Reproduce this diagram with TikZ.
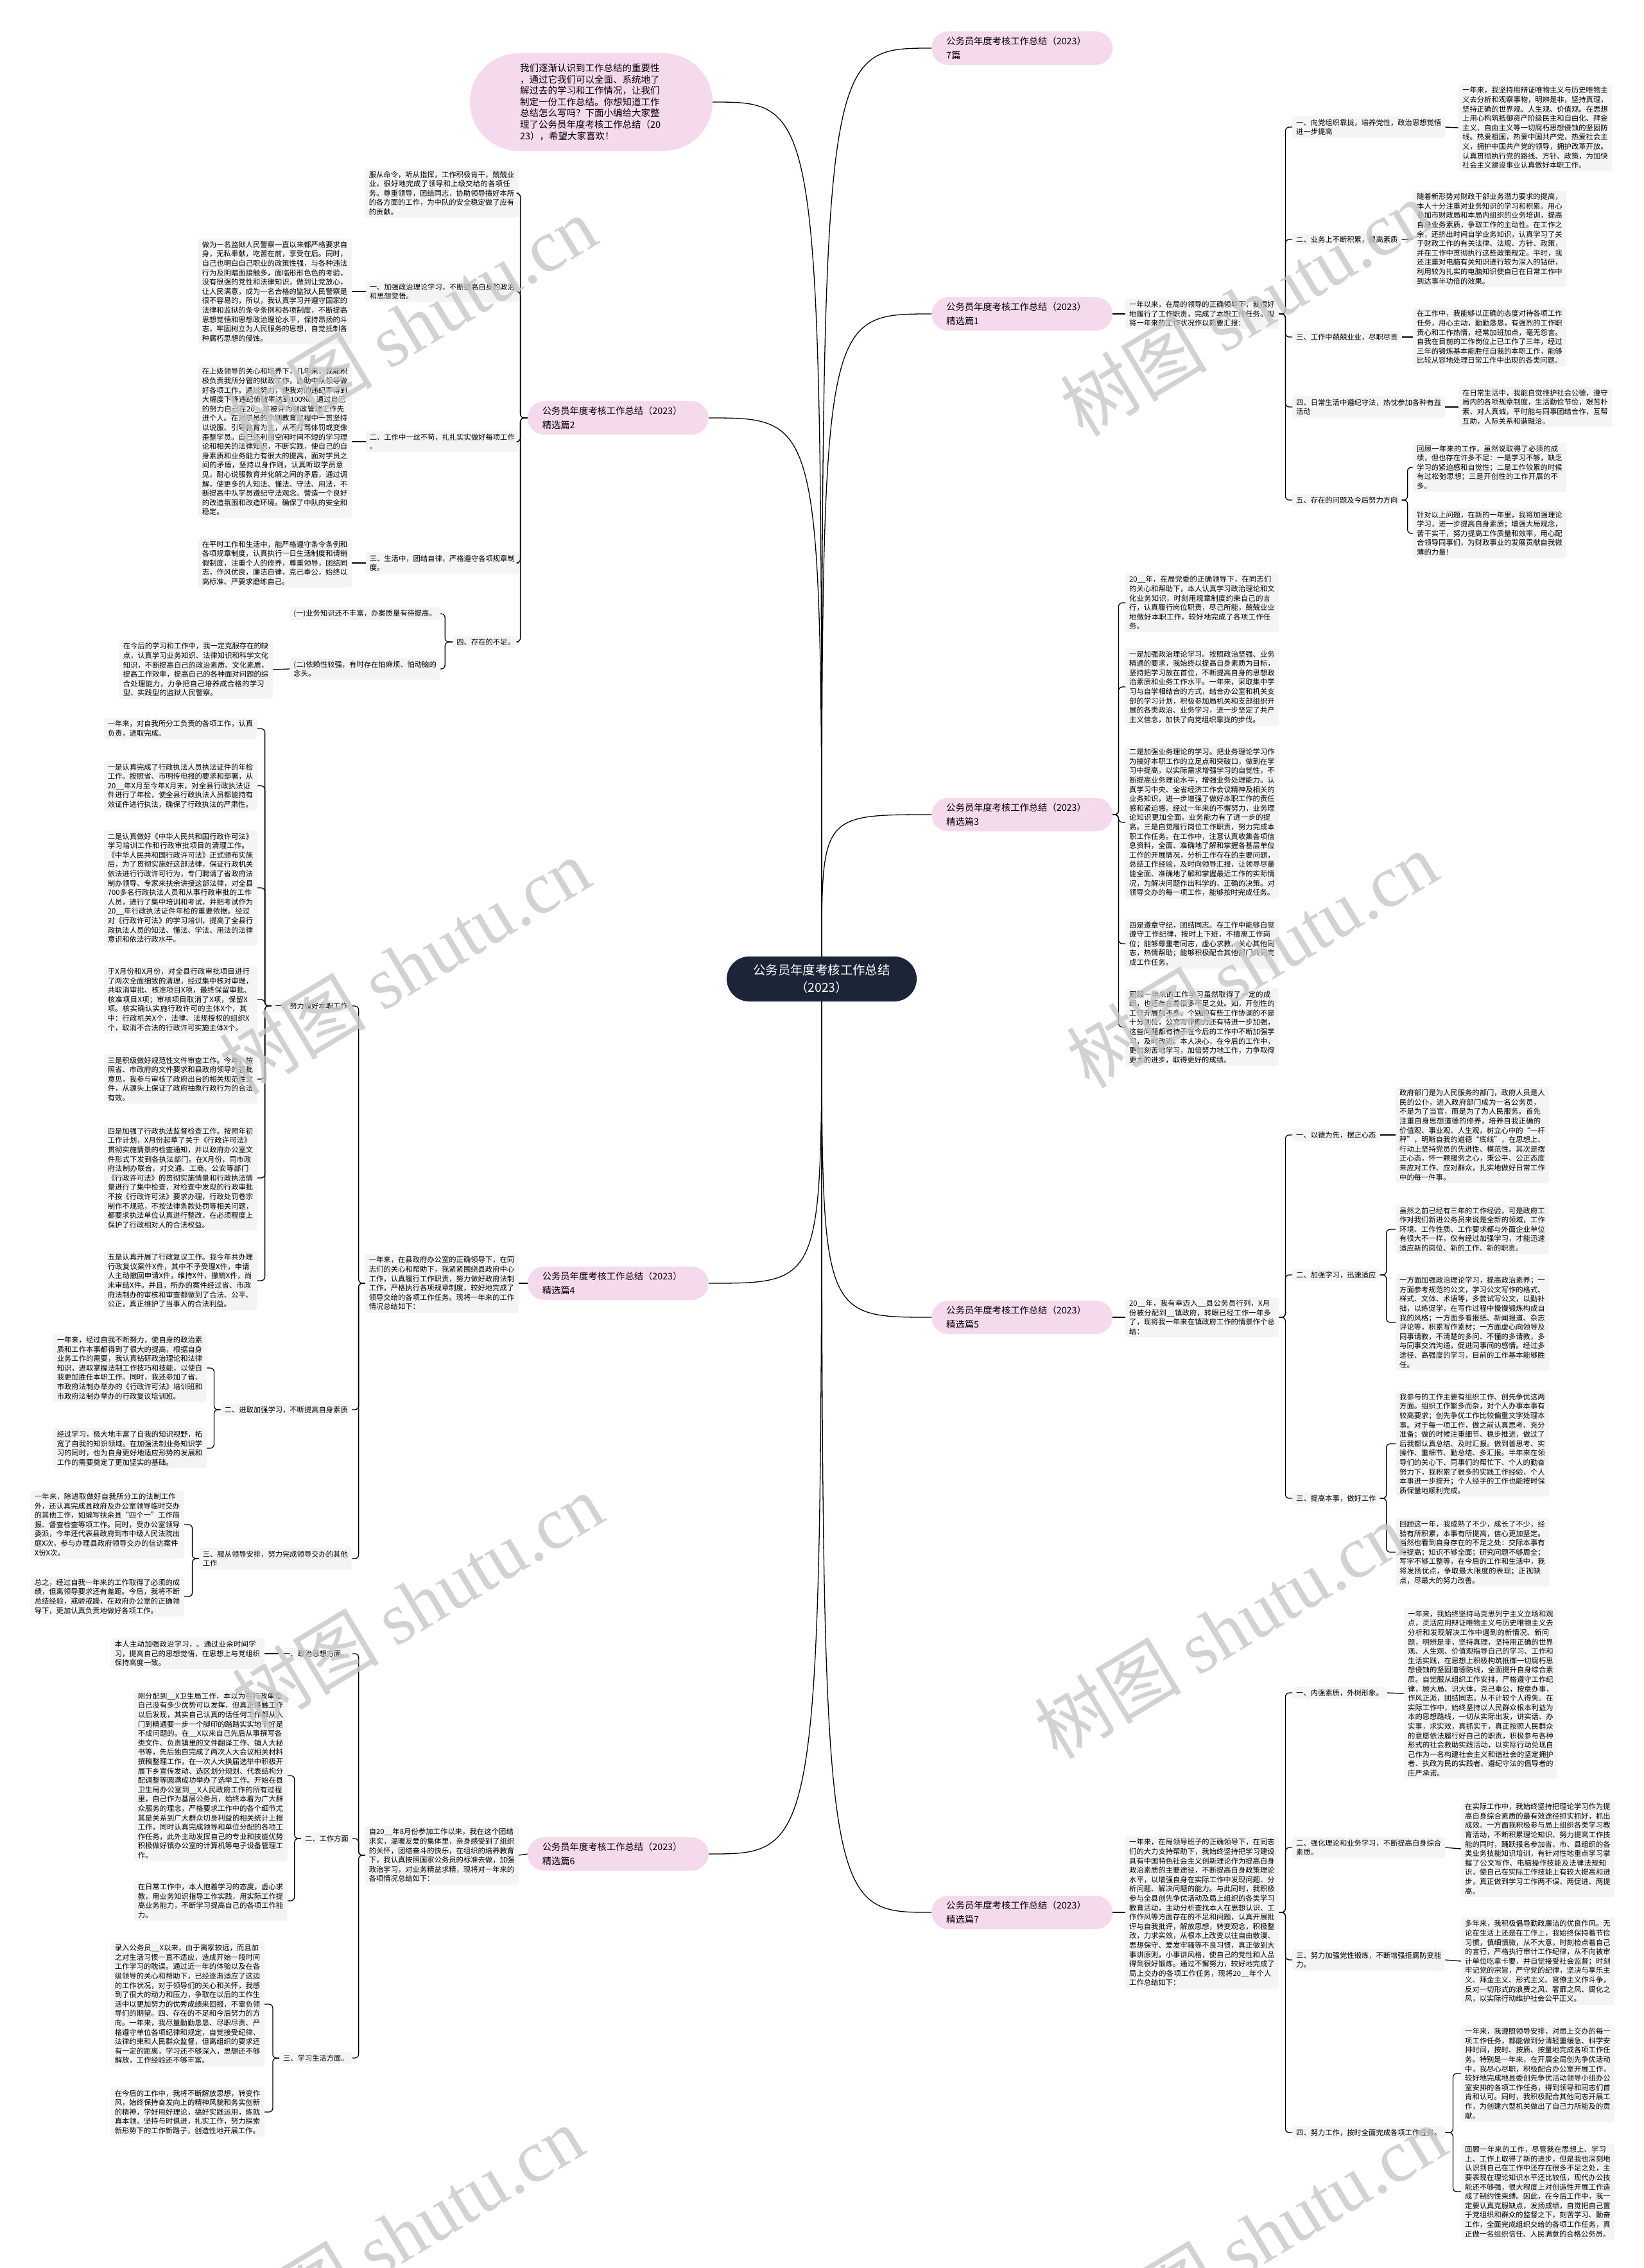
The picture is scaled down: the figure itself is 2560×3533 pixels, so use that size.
\documentclass[tikz,border=0pt]{standalone}
\usepackage{fontspec}
\setmainfont{Noto Sans CJK SC}
\newfontfamily\wmfont{Liberation Serif}
\XeTeXlinebreaklocale "zh"
\XeTeXlinebreakskip=0pt plus 1pt
\usepackage{tikz}
\usetikzlibrary{positioning}
\definecolor{rootblue}{HTML}{1B2537}
\definecolor{topicpink}{HTML}{F5DAEE}
\definecolor{notegray}{HTML}{F4F4F4}

\begin{document}
\begin{tikzpicture}[x=1pt,y=-1pt,
    rootbox/.style={fill=rootblue,text=white,rounded corners=35pt,minimum width=296pt,minimum height=70pt,align=center,font=\fontsize{19.4}{26.7}\selectfont},
    introbox/.style={fill=topicpink,rounded corners=76pt,text width=222pt,inner xsep=78pt,minimum height=152pt,align=left,font=\fontsize{14.5}{17.6}\selectfont},
    topicbox/.style={fill=topicpink,rounded corners=26pt,text width=236pt,inner xsep=23pt,minimum height=52pt,align=left,font=\fontsize{14.3}{21.7}\selectfont},
    headbox/.style={fill=notegray,rounded corners=4pt,inner xsep=6pt,inner ysep=4pt,align=left,font=\fontsize{11.3}{14.6}\selectfont},
    notebox/.style={headbox,text width=227pt},
    rootcurve/.style={line width=1.3pt},
    treelink/.style={line width=1.3pt,rounded corners=6pt},
    wmark/.style={text=black!22,opacity=0.8,rotate=31,font=\fontsize{115}{115}\selectfont}]
\useasboundingbox (0,0) rectangle (2560,3533);
\fill[white] (0,0) rectangle (2560,3533);

% centre and intro
\node[rootbox] (root) at (1280,1525) {公务员年度考核工作总结\\（2023）};
\node[introbox] (intro) at (921,159) {我们逐渐认识到工作总结的重要性\\，通过它我们可以全面、系统地了\\解过去的学习和工作情况，让我们\\制定一份工作总结。你想知道工作\\总结怎么写吗？下面小编给大家整\\理了公务员年度考核工作总结（20\\23），希望大家喜欢！};

% branches
\node[topicbox,anchor=west] (b0) at (1451,75) {公务员年度考核工作总结（2023）\\7篇};
\node[topicbox,anchor=west] (b1) at (1451,489) {公务员年度考核工作总结（2023）\\精选篇1};
\node[topicbox,anchor=east] (b2) at (1104,651) {公务员年度考核工作总结（2023）\\精选篇2};
\node[topicbox,anchor=west] (b3) at (1451,1269) {公务员年度考核工作总结（2023）\\精选篇3};
\node[topicbox,anchor=east] (b4) at (1104,1999) {公务员年度考核工作总结（2023）\\精选篇4};
\node[topicbox,anchor=west] (b5) at (1451,2052) {公务员年度考核工作总结（2023）\\精选篇5};
\node[topicbox,anchor=east] (b6) at (1104,2888) {公务员年度考核工作总结（2023）\\精选篇6};
\node[topicbox,anchor=west] (b7) at (1451,2979) {公务员年度考核工作总结（2023）\\精选篇7};

\draw[rootcurve] (root.north) .. controls (root.north |- intro.east) .. (intro.east);
\draw[rootcurve] (root.north) .. controls (root.north |- b0.west) .. (b0.west);
\draw[rootcurve] (root.north) .. controls (root.north |- b1.west) .. (b1.west);
\draw[rootcurve] (root.north) .. controls (root.north |- b2.east) .. (b2.east);
\draw[rootcurve] (root.north) .. controls (root.north |- b3.west) .. (b3.west);
\draw[rootcurve] (root.south) .. controls (root.south |- b4.east) .. (b4.east);
\draw[rootcurve] (root.south) .. controls (root.south |- b5.west) .. (b5.west);
\draw[rootcurve] (root.south) .. controls (root.south |- b6.east) .. (b6.east);
\draw[rootcurve] (root.south) .. controls (root.south |- b7.west) .. (b7.west);

% 篇1
\node[notebox,anchor=west] (p1) at (1753,489) {一年以来，在局的领导的正确领导下，我很好地履行了工作职责，完成了本职工作任务。现将一年来的工作状况作以简要汇报：};
\node[headbox,anchor=west] (h11) at (2013,198) {一、向党组织靠拢，培养党性，政治思想觉悟\\进一步提高};
\node[headbox,anchor=west] (h12) at (2013,373) {二、业务上不断积累，提高素质};
\node[headbox,anchor=west] (h13) at (2013,525) {三、工作中兢兢业业，尽职尽责};
\node[headbox,anchor=west] (h14) at (2013,634) {四、日常生活中遵纪守法，热忱参加各种有益\\活动};
\node[headbox,anchor=west] (h15) at (2013,779) {五、存在的问题及今后努力方向};
\node[notebox,anchor=west] (t11) at (2272,199) {一年来，我坚持用辩证唯物主义与历史唯物主义去分析和观察事物，明辨是非，坚持真理，坚持正确的世界观、人生观、价值观。在思想上用心构筑抵御资产阶级民主和自由化、拜金主义、自由主义等一切腐朽思想侵蚀的坚固防线。热爱祖国，热爱中国共产党，热爱社会主义，拥护中国共产党的领导，拥护改革开放。认真贯彻执行党的路线、方针、政策，为加快社会主义建设事业认真做好本职工作。};
\node[notebox,anchor=west] (t12) at (2201,372) {随着新形势对财政干部业务潜力要求的提高，本人十分注重对业务知识的学习和积累。用心参加市财政局和本局内组织的业务培训，提高自身业务素质，争取工作的主动性。在工作之余，还挤出时间自学业务知识，认真学习了关于财政工作的有关法律、法规、方针、政策，并在工作中贯彻执行这些政策规定。平时，我还注重对电脑有关知识进行较为深入的钻研，利用较为扎实的电脑知识使自已在日常工作中到达事半功倍的效果。};
\node[notebox,anchor=west] (t13) at (2201,525) {在工作中，我能够以正确的态度对待各项工作任务，用心主动，勤勤恳恳，有强烈的工作职责心和工作热情，经常加班加点，毫无怨言。自我在目前的工作岗位上已工作了三年，经过三年的锻炼基本能胜任自我的本职工作，能够比较从容地处理日常工作中出现的各类问题。};
\node[notebox,anchor=west] (t14) at (2272,634) {在日常生活中，我能自觉维护社会公德，遵守局内的各项规章制度，生活勤俭节俭，艰苦朴素、对人真诚，平时能与同事团结合作，互帮互助，人际关系和谐融洽。};
\node[notebox,anchor=west] (t15a) at (2201,728) {回顾一年来的工作，虽然说取得了必须的成绩，但也存在许多不足：一是学习不够，缺乏学习的紧迫感和自觉性；二是工作较累的时候有过松弛思想；三是开创性的工作开展的不多。};
\node[notebox,anchor=west] (t15b) at (2201,831) {针对以上问题，在新的一年里，我将加强理论学习，进一步提高自身素质；增强大局观念，苦干实干，努力提高工作质量和效率，用心配合领导同事们，为财政事业的发展贡献自我微薄的力量！};
\draw[treelink] (b1.east) -- (p1.west);
\draw[treelink] (p1.east) -- ++(10,0) |- (h11.west);
\draw[treelink] (p1.east) -- ++(10,0) |- (h12.west);
\draw[treelink] (p1.east) -- ++(10,0) |- (h13.west);
\draw[treelink] (p1.east) -- ++(10,0) |- (h14.west);
\draw[treelink] (p1.east) -- ++(10,0) |- (h15.west);
\draw[treelink] (h11.east) -- (t11.west);
\draw[treelink] (h12.east) -- (t12.west);
\draw[treelink] (h13.east) -- (t13.west);
\draw[treelink] (h14.east) -- (t14.west);
\draw[treelink] (h15.east) -- ++(9,0) |- (t15a.west);
\draw[treelink] (h15.east) -- ++(9,0) |- (t15b.west);

% 篇2
\node[notebox,anchor=east] (t21) at (808,301) {服从命令，听从指挥，工作积极肯干，兢兢业业，很好地完成了领导和上级交给的各项任务。尊重领导，团结同志，协助领导搞好本所的各方面的工作，为中队的安全稳定做了应有的贡献。};
\node[headbox,anchor=east] (h21) at (808,454) {一、加强政治理论学习，不断提高自身的政治\\和思想觉悟。};
\node[headbox,anchor=east] (h22) at (808,688) {二、工作中一丝不苟，扎扎实实做好每项工作\\。};
\node[headbox,anchor=east] (h23) at (808,877) {三、生活中，团结自律，严格遵守各项规章制\\度。};
\node[headbox,anchor=east] (h24) at (808,1000) {四、存在的不足。};
\node[notebox,anchor=east] (t22) at (548,454) {做为一名监狱人民警察一直以来都严格要求自身，无私奉献，吃苦在前，享受在后。同时，自己也明白自己职业的政策性强，与各种违法行为及阴暗面接触多，面临形形色色的考验，没有很强的党性和法律知识，做到让党放心，让人民满意，成为一名合格的监狱人民警察是很不容易的，所以，我认真学习并遵守国家的法律和监狱的条令条例和各项制度，不断提高思想觉悟和思想政治理论水平，保持昂扬的斗志，牢固树立为人民服务的思想，自觉抵制各种腐朽思想的侵蚀。};
\node[notebox,anchor=east] (t23) at (548,688) {在上级领导的关心和培养下，几年来，我能积极负责我所分管的狱政工作，协助中队领导做好各项工作。通过努力，使我对的违纪率得到大幅度下降违纪侦破率达到100\%。通过自己的努力自己在20\_\_年被评为狱政管理工作先进个人。在对学员的个别教育过程中一贯坚持以说服、引导教育为主，从不打骂体罚或变像歪整学员。自己还利用空闲时间不短的学习理论和相关的法律知识，不断实践，使自己的自身素质和业务能力有很大的提高，面对学员之间的矛盾，坚持以身作则，认真听取学员意见，耐心说服教育并化解之间的矛盾，通过调解，使更多的人知法、懂法、守法、用法，不断提高中队学员遵纪守法观念。营造一个良好的改造氛围和改造环境。确保了中队的安全和稳定。};
\node[notebox,anchor=east] (t24) at (548,877) {在平时工作和生活中，能严格遵守条令条例和各项规章制度，认真执行一日生活制度和请销假制度，注重个人的修养，尊重领导，团结同志，作风优良，廉洁自律，克己奉公，始终以高标准、严要求磨练自己。};
\node[headbox,anchor=east] (h241) at (686,956) {(一)业务知识还不丰富，办案质量有待提高。};
\node[headbox,anchor=east] (h242) at (686,1042) {(二)依赖性较强，有时存在怕麻烦、怕动脑的\\念头。};
\node[notebox,anchor=east] (t25) at (425,1043) {在今后的学习和工作中，我一定克服存在的缺点，认真学习业务知识、法律知识和科学文化知识，不断提高自己的政治素质、文化素质，提高工作效率，提高自己的各种面对问题的综合处理能力，力争把自己培养成合格的学习型、实践型的监狱人民警察。};
\draw[treelink] (b2.west) -- ++(-11,0) |- (t21.east);
\draw[treelink] (b2.west) -- ++(-11,0) |- (h21.east);
\draw[treelink] (b2.west) -- ++(-11,0) |- (h22.east);
\draw[treelink] (b2.west) -- ++(-11,0) |- (h23.east);
\draw[treelink] (b2.west) -- ++(-11,0) |- (h24.east);
\draw[treelink] (h21.west) -- (t22.east);
\draw[treelink] (h22.west) -- (t23.east);
\draw[treelink] (h23.west) -- (t24.east);
\draw[treelink] (h24.west) -- ++(-12,0) |- (h241.east);
\draw[treelink] (h24.west) -- ++(-12,0) |- (h242.east);
\draw[treelink] (h242.west) -- (t25.east);

% 篇3
\node[notebox,anchor=west] (t31) at (1753,939) {20\_\_年，在局党委的正确领导下，在同志们的关心和帮助下，本人认真学习政治理论和文化业务知识，时刻用规章制度约束自己的言行，认真履行岗位职责，尽己所能，兢兢业业地做好本职工作，较好地完成了各项工作任务。};
\node[notebox,anchor=west] (t32) at (1753,1070) {一是加强政治理论学习。按照政治坚强、业务精通的要求，我始终以提高自身素质为目标，坚持把学习放在首位，不断提高自身的思想政治素质和业务工作水平。一年来，采取集中学习与自学相结合的方式，结合办公室和机关支部的学习计划，积极参加局机关和支部组织开展的各类政治、业务学习，进一步坚定了共产主义信念，加快了向党组织靠拢的步伐。};
\node[notebox,anchor=west] (t33) at (1753,1281) {二是加强业务理论的学习。把业务理论学习作为搞好本职工作的立足点和突破口，做到在学习中提高，以实际需求增强学习的自觉性，不断提高业务理论水平，增强业务处理能力。认真学习中央、全省经济工作会议精神及相关的业务知识，进一步增强了做好本职工作的责任感和紧迫感。经过一年来的不懈努力，业务理论知识更加全面，业务能力有了进一步的提高。三是自觉履行岗位工作职责，努力完成本职工作任务。在工作中，注意认真收集各项信息资料，全面、准确地了解和掌握各基层单位工作的开展情况，分析工作存在的主要问题，总结工作经验，及时向领导汇报，让领导尽量能全面、准确地了解和掌握最近工作的实际情况，为解决问题作出科学的、正确的决策。对领导交办的每一项工作，能够按时完成任务。};
\node[notebox,anchor=west] (t34) at (1753,1470) {四是遵章守纪，团结同志。在工作中能够自觉遵守工作纪律，按时上下班，不擅离工作岗位；能够尊重老同志，虚心求教，关心其他同志，热情帮助；能够积极配合其他部门共同完成工作任务。};
\node[notebox,anchor=west] (t35) at (1753,1600) {回顾一年来的工作学习虽然取得了一定的成绩，也还存在着很多不足之处。如，开创性的工作开展的不多，个别的有些工作协调的不是十分到位，公文写作能力还有待进一步加强，这些问题都有待于在今后的工作中不断加强学习，及时改进。本人决心，在今后的工作中，更加刻苦地学习，加倍努力地工作，力争取得更大的进步，取得更好的成绩。};
\draw[treelink] (b3.east) -- ++(9,0) |- (t31.west);
\draw[treelink] (b3.east) -- ++(9,0) |- (t32.west);
\draw[treelink] (b3.east) -- ++(9,0) |- (t33.west);
\draw[treelink] (b3.east) -- ++(9,0) |- (t34.west);
\draw[treelink] (b3.east) -- ++(9,0) |- (t35.west);

% 篇4
\node[notebox,anchor=east] (p4) at (808,1999) {一年来，在县政府办公室的正确领导下，在同志们的关心和帮助下，我紧紧围绕县政府中心工作，认真履行工作职责，努力做好政府法制工作，严格执行各项规章制度，较好地完成了领导交给的各项工作任务。现将一年来的工作情况总结如下：};
\node[headbox,anchor=east] (h41) at (548,1567) {一、努力做好本职工作};
\node[headbox,anchor=east] (h42) at (548,2196) {二、进取加强学习，不断提高自身素质};
\node[headbox,anchor=east] (h43) at (548,2428) {三、服从领导安排，努力完成领导交办的其他\\工作};
\node[notebox,anchor=east] (t41a) at (401,1135) {一年来，对自我所分工负责的各项工作，认真负责，进取完成。};
\node[notebox,anchor=east] (t41b) at (401,1224) {一是认真完成了行政执法人员执法证件的年检工作。按照省、市明传电报的要求和部署，从20\_\_年X月至今年X月末，对全县行政执法证件进行了年检，使全县行政执法人员都能持有效证件进行执法，确保了行政执法的严肃性。};
\node[notebox,anchor=east] (t41c) at (401,1383) {二是认真做好《中华人民共和国行政许可法》学习培训工作和行政审批项目的清理工作。《中华人民共和国行政许可法》正式颁布实施后，为了贯彻实施好这部法律，保证行政机关依法进行行政许可行为，专门聘请了省政府法制办领导、专家来扶余讲授这部法律，对全县700多名行政执法人员和从事行政审批的工作人员，进行了集中培训和考试，并把考试作为20\_\_年行政执法证件年检的重要依据。经过对《行政许可法》的学习培训，提高了全县行政执法人员的知法、懂法、学法、用法的法律意识和依法行政水平。};
\node[notebox,anchor=east] (t41d) at (401,1557) {于X月份和X月份，对全县行政审批项目进行了两次全面细致的清理，经过集中核对审理，共取消审批、核准项目X项，最终保留审批、核准项目X项；审核项目取消了X项，保留X项。核实确认实施行政许可的主体X个，其中：行政机关X个，法律、法规授权的组织X个，取消不合法的行政许可实施主体X个。};
\node[notebox,anchor=east] (t41e) at (401,1681) {三是积级做好规范性文件审查工作。今年，按照省、市政府的文件要求和县政府领导的签批意见，我参与审核了政府出台的相关规范性文件，从源头上保证了政府抽象行政行为的合法有效。};
\node[notebox,anchor=east] (t41f) at (401,1835) {四是加强了行政执法监督检查工作。按照年初工作计划，X月份起草了关于《行政许可法》贯彻实施情景的检查通知，并以政府办公室文件形式下发到各执法部门。在X月份，同市政府法制办联合，对交通、工商、公安等部门《行政许可法》的贯彻实施情景和行政执法情景进行了集中检查，对检查中发现的行政审批不按《行政许可法》要求办理，行政处罚卷宗制作不规范，不按法律条款处罚等相关问题，都要求执法单位认真进行整改，在必须程度上保护了行政相对人的合法权益。};
\node[notebox,anchor=east] (t41g) at (401,1995) {五是认真开展了行政复议工作。我今年共办理行政复议案件X件，其中不予受理X件，申请人主动撤回申请X件，维持X件，撤销X件，尚未审结X件。并且，所办的案件经过省、市政府法制办的审核和审查都做到了合法、公平、公正，真正维护了当事人的合法利益。};
\node[notebox,anchor=east] (t42a) at (322,2131) {一年来，经过自我不断努力，使自身的政治素质和工作本事都得到了很大的提高，根据自身业务工作的需要，我认真钻研政治理论和法律知识，进取掌握法制工作技巧和技能，以使自我更加胜任本职工作。同时，我还参加了省、市政府法制办举办的《行政许可法》培训班和市政府法制办举办的行政复议培训班。};
\node[notebox,anchor=east] (t42b) at (322,2256) {经过学习，极大地丰富了自我的知识视野，拓宽了自我的知识领域。在加强法制业务知识学习的同时，也为自身更好地适应形势的发展和工作的需要奠定了更加坚实的基础。};
\node[notebox,anchor=east] (t43a) at (287,2375) {一年来，除进取做好自我所分工的法制工作外，还认真完成县政府及办公室领导临时交办的其他工作，如编写扶余县“四个一”工作简报、督查检查等项工作。同时，受办公室领导委派，今年还代表县政府到市中级人民法院出庭X次，参与办理县政府领导交办的信访案件X份X次。};
\node[notebox,anchor=east] (t43b) at (287,2487) {总之，经过自我一年来的工作取得了必须的成绩，但离领导要求还有差距。今后，我将不断总结经验，戒骄戒躁，在政府办公室的正确领导下，更加认真负责地做好各项工作。};
\draw[treelink] (b4.west) -- (p4.east);
\draw[treelink] (p4.west) -- ++(-10,0) |- (h41.east);
\draw[treelink] (p4.west) -- ++(-10,0) |- (h42.east);
\draw[treelink] (p4.west) -- ++(-10,0) |- (h43.east);
\draw[treelink] (h41.west) -- ++(-10,0) |- (t41a.east);
\draw[treelink] (h41.west) -- ++(-10,0) |- (t41b.east);
\draw[treelink] (h41.west) -- ++(-10,0) |- (t41c.east);
\draw[treelink] (h41.west) -- ++(-10,0) |- (t41d.east);
\draw[treelink] (h41.west) -- ++(-10,0) |- (t41e.east);
\draw[treelink] (h41.west) -- ++(-10,0) |- (t41f.east);
\draw[treelink] (h41.west) -- ++(-10,0) |- (t41g.east);
\draw[treelink] (h42.west) -- ++(-10,0) |- (t42a.east);
\draw[treelink] (h42.west) -- ++(-10,0) |- (t42b.east);
\draw[treelink] (h43.west) -- ++(-10,0) |- (t43a.east);
\draw[treelink] (h43.west) -- ++(-10,0) |- (t43b.east);

% 篇5
\node[notebox,anchor=west] (p5) at (1753,2052) {20\_\_年，我有幸迈入\_\_县公务员行列，X月份被分配到\_\_镇政府，转眼已经工作一年多了，现将我一年来在镇政府工作的情景作个总结：};
\node[headbox,anchor=west] (h51) at (2013,1768) {一、以德为先，摆正心态};
\node[headbox,anchor=west] (h52) at (2013,1986) {二、加强学习，迅速适应};
\node[headbox,anchor=west] (h53) at (2013,2334) {三、提高本事，做好工作};
\node[notebox,anchor=west] (t51) at (2174,1768) {政府部门是为人民服务的部门，政府人员是人民的公仆，进入政府部门成为一名公务员，不是为了当官，而是为了为人民服务。首先注重自身思想道德的修养，培养自我正确的价值观、事业观、人生观，树立心中的“一杆秤”，明晰自我的道德“底线”，在思想上、行动上坚持党员的先进性、模范性。其次是摆正心态，怀一颗服务之心，秉公平、公正态度来应对工作、应对群众，扎实地做好日常工作中的每一件事。};
\node[notebox,anchor=west] (t52a) at (2174,1915) {虽然之前已经有三年的工作经验，可是政府工作对我们新进公务员来说是全新的领域，工作环境、工作性质、工作要求都与外面企业单位有很大不一样，仅有经过加强学习，才能迅速适应新的岗位、新的工作、新的职责。};
\node[notebox,anchor=west] (t52b) at (2174,2060) {一方面加强政治理论学习，提高政治素养；一方面参考规范的公文，学习公文写作的格式、样式、文体、术语等，多尝试写公文，以勤补拙，以练促学，在写作过程中慢慢锻炼构成自我的风格；一方面多看报纸、新闻报道、杂志评论等，积累写作素材；一方面虚心向领导及同事请教，不清楚的多问、不懂的多请教，多与同事交流沟通，促进同事间的感情。经过多途径、高强度的学习，目前的工作基本能够胜任。};
\node[notebox,anchor=west] (t53a) at (2174,2249) {我参与的工作主要有组织工作、创先争优这两方面。组织工作繁多而杂，对个人办事本事有较高要求；创先争优工作比较偏重文字处理本事。对于每一项工作，做之前认真思考、充分准备；做的时候注重细节、稳步推进，做过了后我都认真总结、及时汇报。做到善思考、实操作、重细节、勤总结、多汇报。半年来在领导们的关心下、同事们的帮忙下、个人的勤奋努力下，我积累了很多的实践工作经验，个人本事进一步提升；个人经手的工作也能按时保质保量地顺利完成。};
\node[notebox,anchor=west] (t53b) at (2174,2418) {回顾这一年，我成熟了不少，成长了不少，经验有所积累，本事有所提高，信心更加坚定。当然也看到自身存在的不足之处：交际本事有待提高；知识不够全面；研究问题不够周全；写字不够工整等，在今后的工作和生活中，我将发扬优点，争取最大限度的表现；正视缺点，尽最大的努力改善。};
\draw[treelink] (b5.east) -- (p5.west);
\draw[treelink] (p5.east) -- ++(10,0) |- (h51.west);
\draw[treelink] (p5.east) -- ++(10,0) |- (h52.west);
\draw[treelink] (p5.east) -- ++(10,0) |- (h53.west);
\draw[treelink] (h51.east) -- (t51.west);
\draw[treelink] (h52.east) -- ++(10,0) |- (t52a.west);
\draw[treelink] (h52.east) -- ++(10,0) |- (t52b.west);
\draw[treelink] (h53.east) -- ++(10,0) |- (t53a.west);
\draw[treelink] (h53.east) -- ++(10,0) |- (t53b.west);

% 篇6
\node[notebox,anchor=east] (p6) at (808,2890) {自20\_\_年8月份参加工作以来，我在这个团结求实，温暖友爱的集体里，亲身感受到了组织的关怀，团结奋斗的快乐，在组织的培养教育下，我认真按照国家公务员的标准去做，加强政治学习，对业务精益求精，现将对一年来的各项情况总结如下：};
\node[headbox,anchor=east] (h61) at (549,2576) {一、政治思想方面。};
\node[headbox,anchor=east] (h62) at (549,2864) {二、工作方面};
\node[headbox,anchor=east] (h63) at (549,3206) {三、学习生活方面。};
\node[notebox,anchor=east] (t61) at (412,2576) {本人主动加强政治学习，。通过业余时间学习，提高自己的思想觉悟，在思想上与党组织保持高度一致。};
\node[notebox,anchor=east] (t62a) at (448,2766) {刚分配到\_\_X卫生局工作，本以为在行政单位自己没有多少优势可以发挥，但真正接触工作以后发现，其实自己认真的话任何工作都从入门到精通要一步一个脚印的踏踏实实地干好是不成问题的。在\_\_X以来自己先后从事撰写各类文件、负责镇里的文件翻译工作、镇人大秘书等，先后独自完成了两次人大会议相关材料撰稿整理工作，在一次人大换届选举中积极开展下乡宣传发动、选区划分规划、代表结构分配调整等圆满成功举办了选举工作。开始在县卫生局办公室到\_\_X人民政府工作的所有过程里，自己作为基层公务员，始终本着为广大群众服务的理念，严格要求工作中的各个细节尤其是关系到广大群众切身利益的相关统计上报工作，同时认真完成领导和单位分配的各项工作任务，此外主动发挥自己的专业和技能优势积极做好镇办公室的计算机等电子设备管理工作。};
\node[notebox,anchor=east] (t62b) at (448,2961) {在日常工作中，本人抱着学习的态度，虚心求教，用业务知识指导工作实践，用实际工作提高业务能力，不断学习提高自己的各项工作能力。};
\node[notebox,anchor=east] (t63a) at (412,3122) {录入公务员\_\_X以来，由于离家较远，而且加之对生活习惯一直不适应，造成开始一段时间工作学习的耽误。通过近一年的体验以及在各级领导的关心和帮助下，已经逐渐适应了这边的工作状况，对于领导们的关心和关怀，我感到了很大的动力和压力，争取在以后的工作生活中以更加努力的优秀成绩来回报，不辜负领导们的期望。四、存在的不足和今后努力的方向。一年来，我尽量勤勤恳恳、尽职尽责、严格遵守单位各项纪律和规定，自觉接受纪律、法律约束和人民群众监督，但离组织的要求还有一定的距离，学习还不够深入，思想还不够解放，工作经验还不够丰富。};
\node[notebox,anchor=east] (t63b) at (412,3290) {在今后的工作中，我将不断解放思想，转变作风，始终保持奋发向上的精神风貌和务实创新的精神，学好用好理论，搞好实践运用，炼就真本领。坚持与时俱进，扎实工作，努力探索新形势下的工作新路子，创造性地开展工作。};
\draw[treelink] (b6.west) -- (p6.east);
\draw[treelink] (p6.west) -- ++(-10,0) |- (h61.east);
\draw[treelink] (p6.west) -- ++(-10,0) |- (h62.east);
\draw[treelink] (p6.west) -- ++(-10,0) |- (h63.east);
\draw[treelink] (h61.west) -- (t61.east);
\draw[treelink] (h62.west) -- ++(-10,0) |- (t62a.east);
\draw[treelink] (h62.west) -- ++(-10,0) |- (t62b.east);
\draw[treelink] (h63.west) -- ++(-10,0) |- (t63a.east);
\draw[treelink] (h63.west) -- ++(-10,0) |- (t63b.east);

% 篇7
\node[notebox,anchor=west] (p7) at (1753,2979) {一年来，在局领导班子的正确领导下，在同志们的大力支持帮助下，我始终坚持把学习建设具有中国特色社会主义创新理论作为提高自身政治素质的主要途径，不断提高自身政策理论水平，以增强自身在实际工作中发现问题、分析问题、解决问题的能力。与此同时，我积极参与全县创先争优活动及局上组织的各类学习教育活动，主动分析查找本人在思想认识、工作作风等方面存在的不足和问题，认真开展批评与自我批评，解放思想，转变观念，积极整改，力求实效，从根本上改变以往自由散漫、思想保守、爱发牢骚等不良习惯，真正做到大事讲原则，小事讲风格，使自己的党性和人品得到很好锻炼。通过不懈努力，较好地完成了局上交办的各项工作任务，现将20\_\_年个人工作总结如下：};
\node[headbox,anchor=west] (h71) at (2013,2637) {一、内强素质，外树形象。};
\node[headbox,anchor=west] (h72) at (2013,2878) {二、强化理论和业务学习，不断提高自身综合\\素质。};
\node[headbox,anchor=west] (h73) at (2013,3053) {三、努力加强党性锻炼，不断增强拒腐防变能\\力。};
\node[headbox,anchor=west] (h74) at (2013,3322) {四、努力工作，按时全面完成各项工作任务。};
\node[notebox,anchor=west] (t71) at (2187,2638) {一年来，我始终坚持马克思列宁主义立场和观点，灵活应用辩证唯物主义与历史唯物主义去分析和发现解决工作中遇到的新情况、新问题，明辨是非，坚持真理，坚持用正确的世界观、人生观、价值观指导自己的学习、工作和生活实践，在思想上积极构筑抵御一切腐朽思想侵蚀的坚固道德防线，全面提升自身综合素质。自觉服从组织工作安排，严格遵守工作纪律，顾大局、识大体，克己奉公，按章办事，作风正派，团结同志，从不计较个人得失。在实际工作中，始终坚持以人民群众根本利益为本的思想路线，一切从实际出发，讲实话、办实事，求实效，真抓实干，真正按照人民群众的意愿依法履行好自己的职责，积极参与各种形式的社会救助实践活动，以实际行动兑现自己作为一名构建社会主义和谐社会的坚定拥护者、执政为民的实践者、遵纪守法的倡导者的庄严承诺。};
\node[notebox,anchor=west] (t72) at (2276,2880) {在实际工作中，我始终坚持把理论学习作为提高自身综合素质的最有效途径抓实抓好，抓出成效。一方面我积极参与局上组织各类学习教育活动，不断积累理论知识、努力提高工作技能的同时，踊跃报名参加省、市、县组织的各类业务技能知识培训，有针对性地重点学习掌握了公文写作、电脑操作技能及法律法规知识，使自己在实际工作技能上有较大提高和进步，真正做到学习工作两不误、两促进、两提高。};
\node[notebox,anchor=west] (t73) at (2276,3055) {多年来，我积极倡导勤政廉洁的优良作风。无论在生活上还是在工作上，我始终保持着节俭习惯，慎细慎微，从不大意，时刻检点着自己的言行，严格执行审计工作纪律，从不向被审计单位吃拿卡要，并自觉接受社会监督；时刻牢记党的宗旨，严守党的纪律，坚决与享乐主义、拜金主义、形式主义、官僚主义作斗争，反对一切形式的浪费之风、奢靡之风、腐化之风，以实际行动维护社会公平正义。};
\node[notebox,anchor=west] (t74a) at (2276,3230) {一年来，我遵照领导安排，对局上交办的每一项工作任务，都能做到分清轻重缓急、科学安排时间，按时、按质、按量地完成各项工作任务。特别是一年来，在开展全局创先争优活动中，我尽心尽职，积极配合办公室开展工作，较好地完成地县委创先争优活动领导小组办公室安排的各项工作任务，得到领导和同志们首肯和认可。同时，我积极配合其他同志开展工作，为创建六型机关做出了自己力所能及的贡献。};
\node[notebox,anchor=west] (t74b) at (2276,3414) {回顾一年来的工作，尽管我在思想上、学习上、工作上取得了新的进步，但是我也深刻地认识到自己在工作中还存在很多不足之处，主要表现在理论知识水平还比较低，现代办公技能还不够强，很大程度上对创造性开展工作造成了制约性束缚。因此，在今后工作中，我一定要认真克服缺点，发扬成绩，自觉把自己置于党组织和群众的监督之下，刻苦学习、勤奋工作，全面完成组织交给的各项工作任务，真正做一名组织信任、人民满意的合格公务员。};
\draw[treelink] (b7.east) -- (p7.west);
\draw[treelink] (p7.east) -- ++(10,0) |- (h71.west);
\draw[treelink] (p7.east) -- ++(10,0) |- (h72.west);
\draw[treelink] (p7.east) -- ++(10,0) |- (h73.west);
\draw[treelink] (p7.east) -- ++(10,0) |- (h74.west);
\draw[treelink] (h71.east) -- (t71.west);
\draw[treelink] (h72.east) -- (t72.west);
\draw[treelink] (h73.east) -- (t73.west);
\draw[treelink] (h74.east) -- ++(12,0) |- (t74a.west);
\draw[treelink] (h74.east) -- ++(12,0) |- (t74b.west);

% watermarks
\node[wmark] (wm1) at (640,505) {树图 {\wmfont shutu.cn}};
\node[wmark] (wm2) at (1940,480) {树图 {\wmfont shutu.cn}};
\node[wmark] (wm3) at (630,1505) {树图 {\wmfont shutu.cn}};
\node[wmark] (wm4) at (1950,1495) {树图 {\wmfont shutu.cn}};
\node[wmark] (wm5) at (650,2495) {树图 {\wmfont shutu.cn}};
\node[wmark] (wm6) at (1900,2540) {树图 {\wmfont shutu.cn}};
\node[wmark] (wm7) at (620,3480) {树图 {\wmfont shutu.cn}};
\node[wmark] (wm8) at (1964,3480) {树图 {\wmfont shutu.cn}};
\end{tikzpicture}
\end{document}
